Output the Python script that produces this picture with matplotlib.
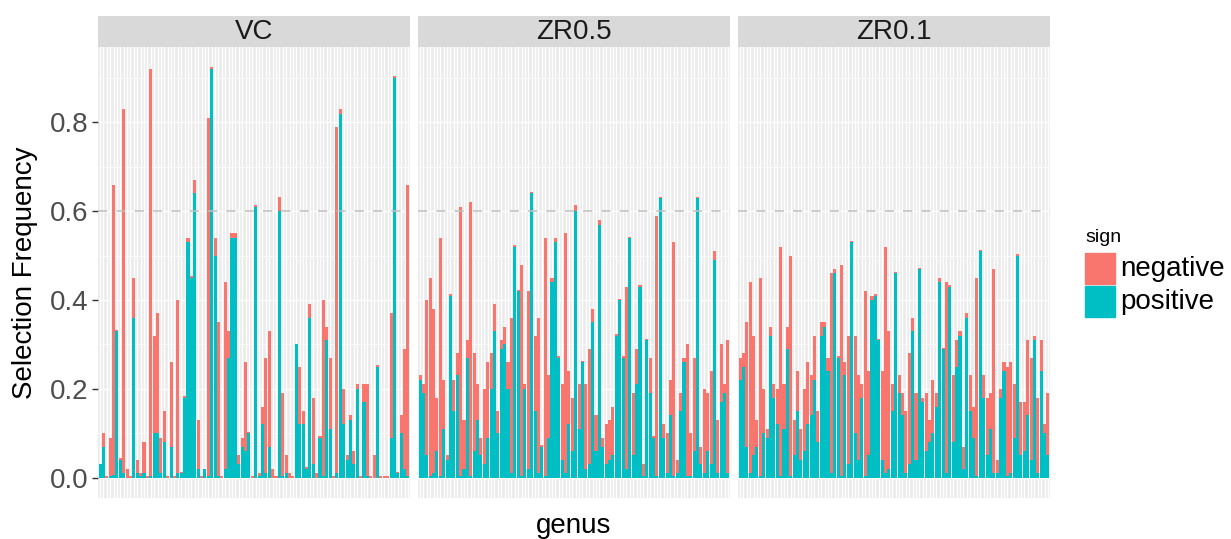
import numpy as np
import matplotlib.pyplot as plt

plt.rcParams['font.family'] = ['Liberation Sans', 'DejaVu Sans']

# Panels (facets)
panels = ["VC", "ZR0.5", "ZR0.1"]

# selection frequency of the "positive" sign per genus (bottom segment)
vc_pos = [0.03, 0.07, 0, 0.003, 0.005, 0.33, 0.04, 0.01, 0, 0, 0.36, 0.01, 0.003, 0.01, 0, 0.003,
          0.10, 0.10, 0.01, 0.08, 0, 0.07, 0, 0.01, 0.01, 0.18, 0.53, 0.45, 0.64, 0.02, 0, 0.02,
          0.003, 0.92, 0.50, 0.003, 0, 0.02, 0.27, 0.54, 0.54, 0.03, 0.07, 0.06, 0.10, 0, 0.61, 0.003,
          0.12, 0.01, 0.07, 0, 0, 0.60, 0.003, 0.01, 0, 0, 0.30, 0.12, 0.12, 0.02, 0.36, 0.03,
          0, 0.09, 0.003, 0.31, 0.11, 0, 0.01, 0.82, 0.12, 0.04, 0.13, 0.03, 0.20, 0, 0.17, 0.003,
          0, 0, 0.25, 0, 0, 0, 0.09, 0.90, 0.01, 0.10, 0.02, 0.003]
# selection frequency of the "negative" sign per genus (top segment)
vc_neg = [0, 0.03, 0.003, 0.087, 0.655, 0.003, 0.003, 0.82, 0.02, 0.003, 0.09, 0.03, 0.007, 0.07, 0.003, 0.917,
          0.22, 0.27, 0.08, 0.07, 0.003, 0.19, 0.003, 0.39, 0.003, 0.003, 0.01, 0.003, 0.03, 0.11, 0.003, 0,
          0.807, 0.004, 0.04, 0.347, 0.003, 0.42, 0.06, 0.01, 0.01, 0.02, 0.02, 0.20, 0.003, 0.003, 0.004, 0.007,
          0.04, 0.26, 0.26, 0.02, 0.003, 0.033, 0.187, 0.04, 0.01, 0.003, 0.002, 0.13, 0.03, 0.003, 0.03, 0.15,
          0.01, 0.003, 0.397, 0.03, 0.16, 0.003, 0.78, 0.01, 0.08, 0.01, 0.01, 0.03, 0.01, 0.003, 0.04, 0.207,
          0.003, 0.05, 0.003, 0.003, 0.003, 0.003, 0.28, 0.005, 0.003, 0.04, 0.27, 0.657]

zr05_pos = [0.22, 0.19, 0.05, 0.003, 0.01, 0.06, 0.003, 0.11, 0.04, 0.41, 0.15, 0.23, 0.003, 0.02, 0.27, 0.003,
            0.06, 0.13, 0.05, 0.03, 0.09, 0.20, 0.33, 0.10, 0.29, 0.30, 0.20, 0.01, 0.52, 0.42, 0.003, 0.20,
            0.02, 0.64, 0.15, 0.01, 0.07, 0.003, 0.09, 0.44, 0.53, 0.27, 0.04, 0.01, 0.12, 0.06, 0.60, 0.11,
            0.26, 0.02, 0.03, 0.35, 0.06, 0.57, 0.07, 0.03, 0.04, 0.05, 0.32, 0.40, 0.27, 0.02, 0.54, 0.05,
            0.21, 0.43, 0.003, 0.31, 0.19, 0.09, 0.003, 0.63, 0.09, 0.01, 0.14, 0.003, 0.01, 0.15, 0.26, 0.003,
            0.003, 0.06, 0.63, 0.03, 0.01, 0.06, 0.03, 0.49, 0.01, 0.17, 0.19, 0.01]
zr05_neg = [0.01, 0.02, 0.35, 0.447, 0.37, 0.12, 0.537, 0.11, 0.01, 0.003, 0.07, 0.05, 0.607, 0.11, 0.04, 0.617,
            0.22, 0.08, 0.04, 0.17, 0.17, 0.08, 0.06, 0.05, 0.02, 0.04, 0.06, 0.35, 0.003, 0.003, 0.477, 0.01,
            0.40, 0.003, 0.17, 0.35, 0.003, 0.537, 0.14, 0.01, 0.01, 0.003, 0.17, 0.54, 0.12, 0.12, 0.013, 0.10,
            0.003, 0.19, 0.26, 0.03, 0.08, 0.01, 0.02, 0.09, 0.09, 0.11, 0.003, 0.003, 0.003, 0.41, 0.003, 0.14,
            0.08, 0.003, 0.027, 0.003, 0.08, 0.003, 0.587, 0.003, 0.03, 0.09, 0.08, 0.527, 0.03, 0.04, 0.01, 0.297,
            0.097, 0.21, 0.003, 0.04, 0.19, 0.13, 0.21, 0.02, 0.12, 0.13, 0.02, 0.30]

zr01_pos = [0.22, 0.25, 0.07, 0.01, 0.05, 0.07, 0.003, 0.10, 0.09, 0.32, 0.18, 0.12, 0.003, 0.11, 0.29, 0.003,
            0.05, 0.15, 0.04, 0.06, 0.12, 0.14, 0.22, 0.08, 0.32, 0.34, 0.24, 0.01, 0.46, 0.27, 0.003, 0.23,
            0.03, 0.53, 0.10, 0.04, 0.18, 0.003, 0.05, 0.40, 0.41, 0.31, 0.04, 0.01, 0.02, 0.15, 0.46, 0.19,
            0.14, 0.01, 0.03, 0.33, 0.04, 0.47, 0.17, 0.06, 0.08, 0.10, 0.16, 0.44, 0.29, 0.01, 0.43, 0.08,
            0.25, 0.32, 0.02, 0.36, 0.15, 0.09, 0.003, 0.51, 0.18, 0.05, 0.11, 0.01, 0.01, 0.18, 0.24, 0.003,
            0.01, 0.09, 0.50, 0.05, 0.06, 0.14, 0.04, 0.31, 0.01, 0.24, 0.10, 0.05]
zr01_neg = [0.05, 0.03, 0.28, 0.43, 0.27, 0.06, 0.447, 0.10, 0.02, 0.02, 0.03, 0.08, 0.517, 0.10, 0.05, 0.497,
            0.08, 0.09, 0.07, 0.14, 0.14, 0.09, 0.10, 0.07, 0.03, 0.01, 0.03, 0.45, 0.01, 0.003, 0.477, 0.03,
            0.29, 0.003, 0.22, 0.19, 0.03, 0.417, 0.19, 0.01, 0.003, 0.003, 0.20, 0.51, 0.31, 0.06, 0.003, 0.04,
            0.05, 0.14, 0.25, 0.03, 0.15, 0.003, 0.01, 0.13, 0.05, 0.12, 0.03, 0.01, 0.003, 0.43, 0.003, 0.15,
            0.06, 0.01, 0.05, 0.01, 0.08, 0.07, 0.447, 0.003, 0.05, 0.13, 0.08, 0.46, 0.03, 0.02, 0.02, 0.247,
            0.25, 0.12, 0.003, 0.12, 0.11, 0.17, 0.23, 0.01, 0.17, 0.07, 0.02, 0.14]

pos_data = [vc_pos, zr05_pos, zr01_pos]
neg_data = [vc_neg, zr05_neg, zr01_neg]

red = "#F8766D"
teal = "#00BFC4"
W, H = 1231, 539

fig = plt.figure(figsize=(W / 100, H / 100), dpi=100)

for i, name in enumerate(panels):
    left = 98 + i * 320
    ax = fig.add_axes([left / W, (H - 498) / H, 312 / W, 451 / H])
    pos = np.array(pos_data[i])
    neg = np.array(neg_data[i])
    x = np.arange(1, len(pos) + 1)

    ax.set_facecolor("#EBEBEB")
    ax.bar(x, pos, width=0.9, color=teal, zorder=2)
    ax.bar(x, neg, width=0.9, bottom=pos, color=red, zorder=2)
    ax.axhline(0.6, color="#BEBEBE", lw=1.1, ls=(0, (6, 6)), zorder=3)

    ax.set_xlim(0.4, len(pos) + 0.6)
    ax.set_ylim(-0.046, 0.97)
    ax.set_xticks(x)
    ax.set_xticklabels([])
    ax.set_yticks([0, 0.2, 0.4, 0.6, 0.8])
    ax.set_yticks([0.1, 0.3, 0.5, 0.7, 0.9], minor=True)
    ax.grid(which="major", color="white", lw=1.0, zorder=0)
    ax.grid(which="minor", axis="y", color="white", lw=0.5, zorder=0)
    ax.set_axisbelow(True)
    ax.tick_params(axis="x", length=0)
    ax.tick_params(axis="y", which="minor", length=0)
    for s in ax.spines.values():
        s.set_visible(False)
    if i == 0:
        ax.set_yticklabels(["0.0", "0.2", "0.4", "0.6", "0.8"], fontsize=20, color="#4D4D4D")
        ax.tick_params(axis="y", length=4, width=1, color="#333333", pad=3)
    else:
        ax.set_yticklabels([])
        ax.tick_params(axis="y", length=0)

    # facet strip
    sx = fig.add_axes([left / W, (H - 47) / H, 312 / W, 31 / H])
    sx.set_facecolor("#D9D9D9")
    sx.set_xticks([])
    sx.set_yticks([])
    for s in sx.spines.values():
        s.set_visible(False)
    sx.text(0.5, 0.47, name, ha="center", va="center", fontsize=20, color="#1A1A1A",
            transform=sx.transAxes)

fig.text(25 / W, 1 - 273 / H, "Selection Frequency", rotation=90, ha="center", va="center", fontsize=20)
fig.text(574 / W, 1 - 526 / H, "genus", ha="center", va="center", fontsize=20)

# legend
fig.text(1085 / W, 1 - 238 / H, "sign", ha="left", va="center", fontsize=14)
fig.patches.append(plt.Rectangle((1085 / W, 1 - 284 / H), 30 / W, 31 / H, color=red,
                                 transform=fig.transFigure, figure=fig))
fig.patches.append(plt.Rectangle((1085 / W, 1 - 317 / H), 30 / W, 31 / H, color=teal,
                                 transform=fig.transFigure, figure=fig))
fig.text(1120 / W, 1 - 269 / H, "negative", ha="left", va="center", fontsize=20)
fig.text(1120 / W, 1 - 302 / H, "positive", ha="left", va="center", fontsize=20)

fig.savefig("out.png", dpi=100)
